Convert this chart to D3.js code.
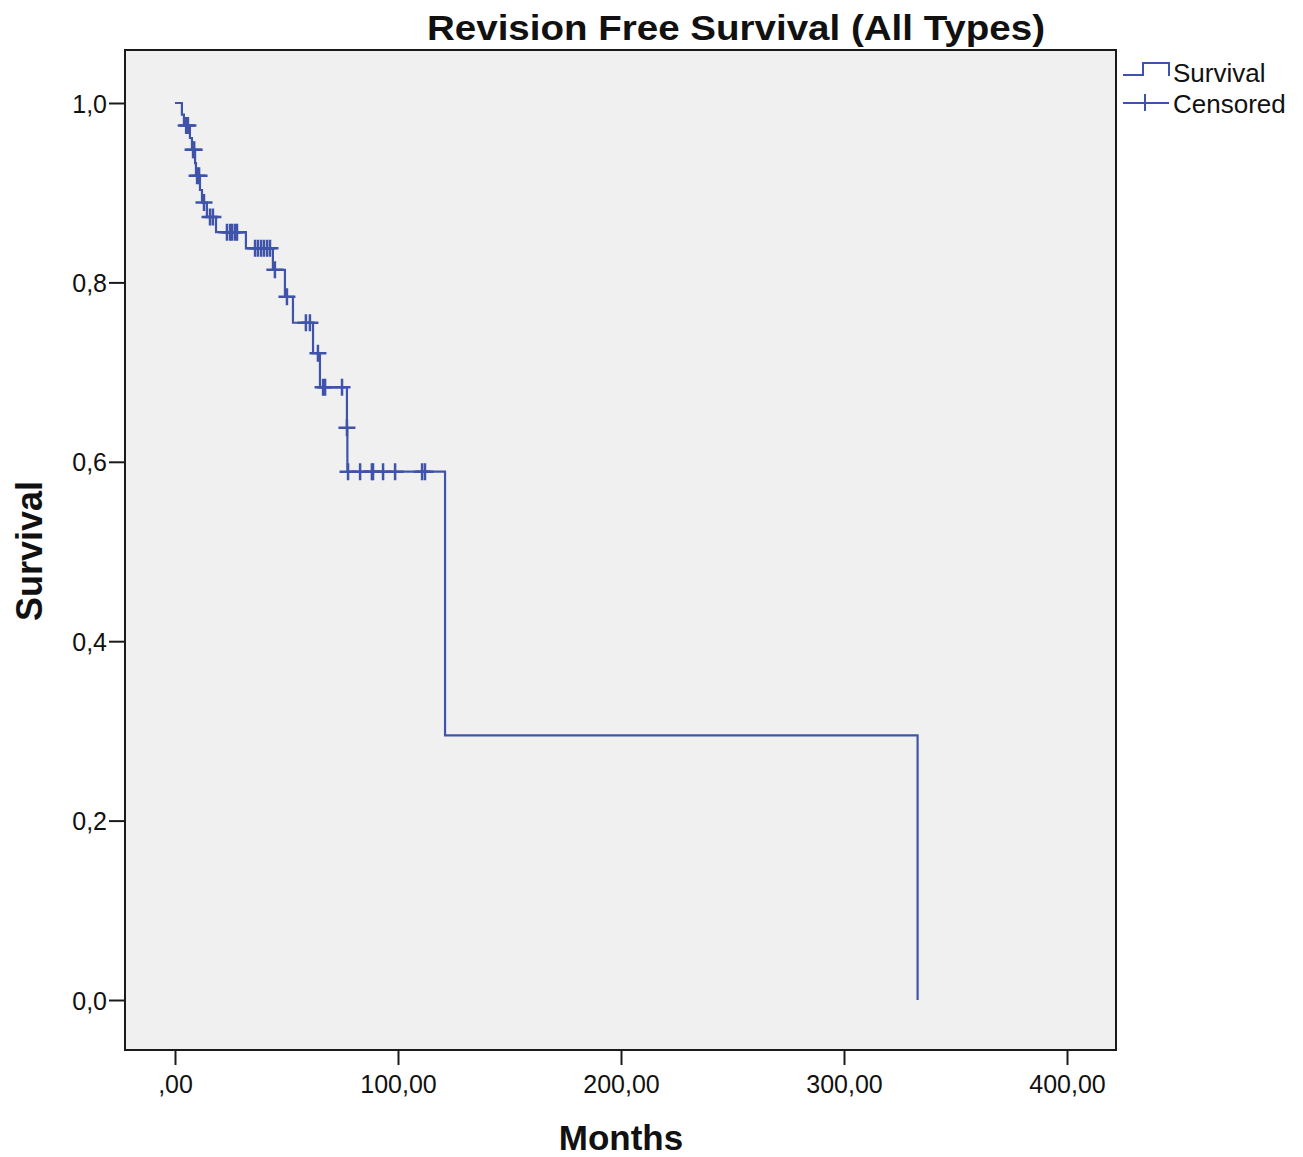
<!DOCTYPE html>
<html><head><meta charset="utf-8">
<script src="https://cdn.jsdelivr.net/npm/d3@7"></script>
<style>body{margin:0;background:#fff}svg{display:block}text{font-family:"Liberation Sans",Arial,sans-serif}</style>
</head><body>
<script>
// Kaplan-Meier step curve: time (months) and survival after each drop
const stepTimes    = [0, 3.1, 4.0, 6.7, 7.6, 9.0, 9.4, 11.2, 12.1, 14.3, 18.4, 31.8, 43.9, 49.3, 52.9, 61.9, 65.0, 77.1, 77.3, 121.1, 333.0];
const stepSurvival = [1.0, 0.987, 0.975, 0.961, 0.948, 0.933, 0.919, 0.903, 0.889, 0.873, 0.856, 0.838, 0.814, 0.784, 0.755, 0.721, 0.683, 0.638, 0.589, 0.295, 0.0];
// Censored observations
const censorTimes    = [5.0, 5.8, 8.1, 8.6, 9.9, 10.8, 13.0, 15.7, 17.0, 23.3, 24.7, 25.6, 26.9, 27.8, 35.9, 37.2, 38.6, 39.9, 41.3, 42.6, 44.8, 50.2, 58.7, 60.5, 64.1, 66.4, 67.3, 74.9, 77.1, 77.6, 83.0, 88.3, 88.8, 93.3, 98.7, 110.8, 112.1];
const censorSurvival = [0.975, 0.975, 0.948, 0.948, 0.919, 0.919, 0.889, 0.873, 0.873, 0.856, 0.856, 0.856, 0.856, 0.856, 0.838, 0.838, 0.838, 0.838, 0.838, 0.838, 0.814, 0.784, 0.755, 0.755, 0.721, 0.683, 0.683, 0.683, 0.638, 0.589, 0.589, 0.589, 0.589, 0.589, 0.589, 0.589, 0.589];
const xTicks = [0, 100, 200, 300, 400];
const xTickLabels = [",00", "100,00", "200,00", "300,00", "400,00"];
const yTicks = [0, 0.2, 0.4, 0.6, 0.8, 1.0];
const yTickLabels = ["0,0", "0,2", "0,4", "0,6", "0,8", "1,0"];
const legendLabels = ["Survival", "Censored"];
const titleText = "Revision Free Survival (All Types)";

const W = 1303, H = 1157;
const L = 125, R = 1116, T = 50, B = 1050;
const lineColor = "#3f54a9";

const svg = d3.select("body").append("svg").attr("width", W).attr("height", H);
const x = d3.scaleLinear().domain([-50/2.23, (R-175)/2.23]).range([L, R]);
const y = d3.scaleLinear().domain([-50/897, 1 + 53/897]).range([B, T]);

svg.append("rect").attr("x", L).attr("y", T).attr("width", R-L).attr("height", B-T)
  .attr("fill", "#f0f0f0");

// curve
const pts = stepTimes.map((t,i)=>[t, stepSurvival[i]]);
svg.append("path").datum(pts)
  .attr("d", d3.line().x(d=>x(d[0])).y(d=>y(d[1])).curve(d3.curveStepAfter))
  .attr("fill", "none").attr("stroke", lineColor).attr("stroke-width", 2.2);

// censor marks
const cs = 8.5;
svg.append("g").selectAll("path").data(censorTimes.map((t,i)=>[t, censorSurvival[i]])).join("path")
  .attr("d", d=>{const px=x(d[0]), py=y(d[1]); return `M${px-cs},${py}H${px+cs}M${px},${py-cs}V${py+cs}`;})
  .attr("stroke", lineColor).attr("stroke-width", 2.5).attr("fill", "none");

// frame
svg.append("rect").attr("x", L).attr("y", T).attr("width", R-L).attr("height", B-T)
  .attr("fill", "none").attr("stroke", "#1a1a1a").attr("stroke-width", 2);

// axes
const xAxis = d3.axisBottom(x).tickValues(xTicks).tickSize(15).tickSizeOuter(0)
  .tickFormat((d,i)=>xTickLabels[i]);
const gx = svg.append("g").attr("transform", `translate(0,${B})`).call(xAxis);
gx.select(".domain").remove();
gx.selectAll(".tick line").attr("stroke", "#1a1a1a").attr("stroke-width", 2);
gx.selectAll(".tick text").attr("font-size", 25).attr("fill", "#111").attr("y", 43).attr("dy", 0);

const yAxis = d3.axisLeft(y).tickValues(yTicks).tickSize(16).tickSizeOuter(0)
  .tickFormat((d,i)=>yTickLabels[i]);
const gy = svg.append("g").attr("transform", `translate(${L},0)`).call(yAxis);
gy.select(".domain").remove();
gy.selectAll(".tick line").attr("stroke", "#1a1a1a").attr("stroke-width", 2);
gy.selectAll(".tick text").attr("font-size", 25).attr("fill", "#111").attr("x", -18).attr("dy", 9);

// titles
svg.append("text").attr("x", 736).attr("y", 40).attr("text-anchor", "middle")
  .attr("font-size", 35).attr("font-weight", "bold").attr("fill", "#111")
  .attr("textLength", 618).attr("lengthAdjust", "spacingAndGlyphs").text(titleText);
svg.append("text").attr("x", 621).attr("y", 1150).attr("text-anchor", "middle")
  .attr("font-size", 35).attr("font-weight", "bold").attr("fill", "#111").text("Months");
svg.append("text").attr("transform", "translate(42,551) rotate(-90)").attr("text-anchor", "middle")
  .attr("font-size", 36).attr("font-weight", "bold").attr("fill", "#111").text("Survival");

// legend
const lg = svg.append("g");
lg.append("path").attr("d", "M1123,75H1143V63H1169V76").attr("fill", "none")
  .attr("stroke", lineColor).attr("stroke-width", 2);
lg.append("path").attr("d", "M1123,103H1169M1145,94V111").attr("fill", "none")
  .attr("stroke", lineColor).attr("stroke-width", 2);
lg.selectAll("text").data(legendLabels).join("text")
  .attr("x", 1173).attr("y", (d,i)=>82 + i*31).attr("font-size", 26).attr("fill", "#111").text(d=>d);
</script>
</body></html>
